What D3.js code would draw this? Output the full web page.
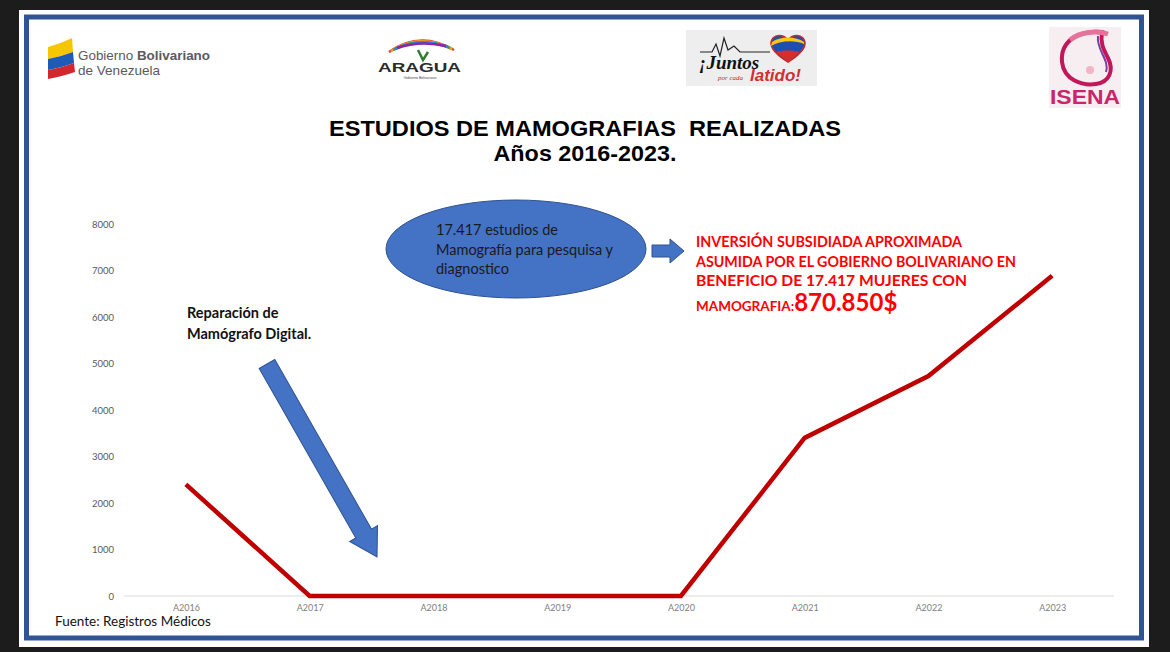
<!DOCTYPE html>
<html>
<head>
<meta charset="utf-8">
<script src="https://cdn.jsdelivr.net/npm/d3@7"></script>
<style>
html,body{margin:0;padding:0;background:#1c1c1c;}
svg{display:block;}
text{white-space:pre;}
</style>
</head>
<body>
<svg id="c" width="1170" height="652"></svg>
<script>
// ---------- DATA ----------
const categories = ["A2016","A2017","A2018","A2019","A2020","A2021","A2022","A2023"];
const values = [2400, 0, 0, 0, 0, 3400, 4730, 6887];
const yTicks = [0,1000,2000,3000,4000,5000,6000,7000,8000];
const titleLines = ["ESTUDIOS DE MAMOGRAFIAS  REALIZADAS", "Años 2016-2023."];
const ellipseLines = ["17.417 estudios de", "Mamografía para pesquisa y", "diagnostico"];
const redLines = ["INVERSIÓN SUBSIDIADA APROXIMADA", "ASUMIDA POR EL GOBIERNO BOLIVARIANO EN", "BENEFICIO DE 17.417 MUJERES CON"];
const redLast = ["MAMOGRAFIA:", "870.850$"];
const repairLines = ["Reparación de", "Mamógrafo Digital."];
const sourceText = "Fuente: Registros Médicos";

const svg = d3.select("#c");
const BLUE = "#4472c4", BLUE_D = "#2f528f";

// slide background
svg.append("rect").attr("x",19).attr("y",10).attr("width",1130).attr("height",637).attr("fill","#fff");
svg.append("rect").attr("x",26.5).attr("y",17).attr("width",1115).attr("height",621)
  .attr("fill","none").attr("stroke","#2f5597").attr("stroke-width",5);

// ---------- logos (simplified) ----------
const g1 = svg.append("g");
g1.append("path").attr("d","M48,47 Q60,44 72,38 L73,52 Q60,57 48,59 Z").attr("fill","#f6c700");
g1.append("path").attr("d","M48,59 Q60,57 73,52 L74,63 Q60,68 48,70 Z").attr("fill","#1c5bb6");
g1.append("path").attr("d","M48,70 Q60,68 74,63 L75,72 Q60,77 48,79 Z").attr("fill","#d3272e");
g1.append("text").attr("x",78).attr("y",60).attr("font-family","Liberation Sans, Arial").attr("font-size",13).attr("fill","#5a5a5c")
  .attr("textLength",132).attr("lengthAdjust","spacingAndGlyphs")
  .html('Gobierno <tspan font-weight="bold">Bolivariano</tspan>');
g1.append("text").attr("x",78).attr("y",75).attr("font-family","Liberation Sans, Arial").attr("font-size",13).attr("fill","#5a5a5c")
  .attr("textLength",82).attr("lengthAdjust","spacingAndGlyphs").text("de Venezuela");

// ARAGUA
const g2 = svg.append("g");
const arcCols = ["#e53935","#f9a825","#43a047","#1e88e5","#8e24aa"];
arcCols.forEach((c,i)=>{
  g2.append("path").attr("d",`M${389+i*2},${52-i} Q${420},${30+i*2.5} ${454-i*2},${50-i}`)
    .attr("fill","none").attr("stroke",c).attr("stroke-width",2.6);
});
g2.append("path").attr("d","M418,50 L423,60 L428,52").attr("fill","none").attr("stroke","#2e7d32").attr("stroke-width",2.5);
g2.append("text").attr("x",419.5).attr("y",72).attr("text-anchor","middle").attr("font-family","Liberation Sans, Arial")
  .attr("font-weight","bold").attr("font-size",13).attr("fill","#2b2b2b").attr("textLength",83).attr("lengthAdjust","spacingAndGlyphs").text("ARAGUA");
g2.append("text").attr("x",420).attr("y",79).attr("text-anchor","middle").attr("font-family","Liberation Sans, Arial")
  .attr("font-size",3.5).attr("fill","#444").text("Gobierno Bolivariano");

// Juntos por cada latido
const g3 = svg.append("g");
g3.append("rect").attr("x",686).attr("y",30).attr("width",131).attr("height",56).attr("fill","#eeeeee");
g3.append("path").attr("d","M700,52 L712,52 L716,44 L720,56 L724,38 L728,50 L734,46 L740,52 L770,52")
  .attr("fill","none").attr("stroke","#222").attr("stroke-width",1.2);
g3.append("path").attr("d","M788,62 C772,52 768,44 773,38 C778,33 786,36 788,41 C790,36 798,33 803,38 C808,44 804,52 788,62 Z")
  .attr("fill","#1e4fb0").attr("stroke","#c62828").attr("stroke-width",1.5);
g3.append("path").attr("d","M772,42 C780,36 796,36 804,42 L804,44 C796,40 780,40 771,46 Z").attr("fill","#f9c80e");
g3.append("path").attr("d","M776,52 C782,50 794,50 800,52 L788,62 Z").attr("fill","#d32f2f");
g3.append("text").attr("x",699).attr("y",69).attr("font-family","Liberation Serif, serif").attr("font-style","italic").attr("font-weight","bold")
  .attr("font-size",19).attr("fill","#111").text("¡Juntos");
g3.append("text").attr("x",718).attr("y",80).attr("font-family","Liberation Serif, serif").attr("font-style","italic")
  .attr("font-size",7).attr("fill","#c62828").text("por cada");
g3.append("text").attr("x",750).attr("y",81).attr("font-family","Liberation Sans, Arial").attr("font-style","italic").attr("font-weight","bold")
  .attr("font-size",17).attr("fill","#d32f2f").text("latido!");

// ISENA
const g4 = svg.append("g");
g4.append("rect").attr("x",1049).attr("y",27).attr("width",72).attr("height",81).attr("fill","#f7eef2");
g4.append("path").attr("d","M1102,32 C1080,30 1060,40 1062,62 C1064,80 1082,86 1096,84 C1110,82 1114,70 1108,58 C1104,50 1100,44 1102,32 Z")
  .attr("fill","none").attr("stroke","#c2185b").attr("stroke-width",4);
g4.append("path").attr("d","M1070,40 C1080,32 1096,30 1108,34").attr("fill","none").attr("stroke","#e57399").attr("stroke-width",5);
g4.append("circle").attr("cx",1090).attr("cy",70).attr("r",4).attr("fill","#f3b5c6");
g4.append("path").attr("d","M1098,36 C1096,50 1110,60 1106,72").attr("fill","none").attr("stroke","#7b3fa0").attr("stroke-width",2);
g4.append("text").attr("x",1085).attr("y",104).attr("text-anchor","middle").attr("font-family","Liberation Sans, Arial")
  .attr("font-weight","bold").attr("font-size",21).attr("fill","#c8266a").attr("textLength",70).attr("lengthAdjust","spacingAndGlyphs").text("ISENA");

// ---------- title ----------
svg.append("text").attr("x",585).attr("y",136).attr("text-anchor","middle").attr("font-family","Liberation Sans, Arial")
  .attr("font-weight","bold").attr("font-size",21.5).attr("fill","#000")
  .attr("textLength",512).attr("lengthAdjust","spacingAndGlyphs").text(titleLines[0]);
svg.append("text").attr("x",585).attr("y",161).attr("text-anchor","middle").attr("font-family","Liberation Sans, Arial")
  .attr("font-weight","bold").attr("font-size",21.5).attr("fill","#000")
  .attr("textLength",183).attr("lengthAdjust","spacingAndGlyphs").text(titleLines[1]);

// ---------- chart ----------
const x = d3.scalePoint().domain(categories).range([124,1114]).padding(0.5);
const y = d3.scaleLinear().domain([0,8000]).range([596,224]);

const yAxis = svg.append("g").attr("transform","translate(117,0)")
  .call(d3.axisLeft(y).tickValues(yTicks).tickSize(0).tickPadding(3).tickFormat(d3.format("d")));
yAxis.select(".domain").remove();
yAxis.selectAll("text").attr("font-family","Lato, Carlito, sans-serif").attr("font-size",9.5).attr("fill","#595959");

const xAxis = svg.append("g").attr("transform","translate(0,596)")
  .call(d3.axisBottom(x).tickSize(0).tickPadding(9));
xAxis.select(".domain").attr("d","M124,0H1114").attr("stroke","#d9d9d9").attr("stroke-width",1);
xAxis.selectAll("text").attr("font-family","Lato, Carlito, sans-serif").attr("font-size",9).attr("fill","#808080");

const line = d3.line().x((d,i)=>x(categories[i])).y(d=>y(d));
svg.append("path").datum(values).attr("d",line).attr("fill","none")
  .attr("stroke","#c00000").attr("stroke-width",4.5).attr("stroke-linejoin","miter");

// ---------- annotations ----------
svg.append("ellipse").attr("cx",516).attr("cy",249).attr("rx",130).attr("ry",49)
  .attr("fill",BLUE).attr("stroke",BLUE_D).attr("stroke-width",1);
ellipseLines.forEach((t,i)=>{
  svg.append("text").attr("x",436).attr("y",235+i*19.5).attr("font-family","Lato, Carlito, sans-serif")
    .attr("font-size",14.5).attr("fill","#1a1a1a").text(t);
});
svg.append("path").attr("d","M652,245 L670,245 L670,239 L684,251 L670,263 L670,257 L652,257 Z")
  .attr("fill",BLUE).attr("stroke",BLUE_D).attr("stroke-width",1);

const redW = [266, 320, 271];
redLines.forEach((t,i)=>{
  svg.append("text").attr("x",696).attr("y",247+i*19.5).attr("font-family","Lato, Carlito, sans-serif").attr("font-weight","bold")
    .attr("font-size",14.5).attr("fill","#ff0000").attr("textLength",redW[i]).attr("lengthAdjust","spacingAndGlyphs").text(t);
});
const rl = svg.append("text").attr("x",696).attr("y",311).attr("font-family","Lato, Carlito, sans-serif").attr("font-weight","bold").attr("fill","#ff0000");
rl.append("tspan").attr("font-size",13.5).text(redLast[0]);
rl.append("tspan").attr("font-size",24).text(redLast[1]);

repairLines.forEach((t,i)=>{
  svg.append("text").attr("x",187).attr("y",318+i*21).attr("font-family","Lato, Carlito, sans-serif").attr("font-weight","bold")
    .attr("font-size",14.5).attr("fill","#111").text(t);
});

const ax0 = 267, ay0 = 364, ax1 = 377, ay1 = 557;
const L = Math.hypot(ax1-ax0, ay1-ay0), ang = Math.atan2(ay1-ay0, ax1-ax0)*180/Math.PI;
const sw = 9, hw = 16, hl = 27;
svg.append("path").attr("transform",`translate(${ax0},${ay0}) rotate(${ang})`)
  .attr("d",`M0,${-sw} L${L-hl},${-sw} L${L-hl},${-hw} L${L},0 L${L-hl},${hw} L${L-hl},${sw} L0,${sw} Z`)
  .attr("fill",BLUE).attr("stroke",BLUE_D).attr("stroke-width",1);

svg.append("text").attr("x",55).attr("y",626).attr("font-family","Lato, Carlito, sans-serif")
  .attr("font-size",13.5).attr("fill","#111").text(sourceText);
</script>
</body>
</html>
